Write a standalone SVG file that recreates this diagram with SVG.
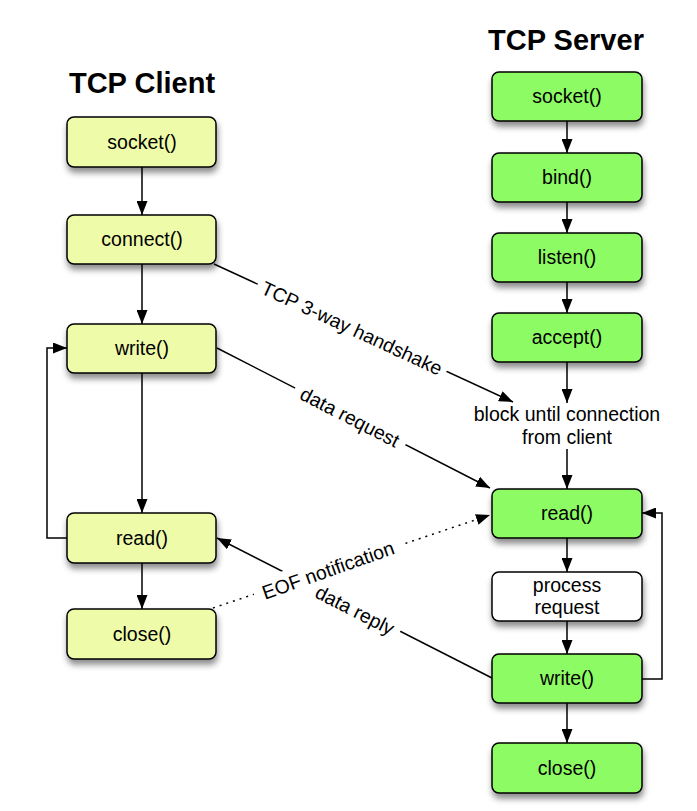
<svg xmlns="http://www.w3.org/2000/svg" width="697" height="811" viewBox="0 0 697 811">
<style>
.t{font-family:"Liberation Sans",Arial,sans-serif;font-size:19.5px;fill:#000;text-anchor:middle}
.h{font-family:"Liberation Sans",Arial,sans-serif;font-size:29px;font-weight:bold;fill:#000;text-anchor:middle}
.c{fill:#eefba9;stroke:#000;stroke-width:1.5}
.s{fill:#8dfb63;stroke:#000;stroke-width:1.5}
.w{fill:#fff;stroke:#000;stroke-width:1.5}
.e{fill:none;stroke:#000;stroke-width:1.5}
.d{fill:none;stroke:#000;stroke-width:1.5;stroke-dasharray:2,5}
</style>
<defs>
<filter id="sh" x="-20%" y="-30%" width="140%" height="180%">
<feDropShadow dx="1" dy="5" stdDeviation="3" flood-color="#000" flood-opacity="0.45"/>
</filter>
<marker id="ar" viewBox="0 0 14 11" refX="14" refY="5.5" markerWidth="14" markerHeight="11" markerUnits="userSpaceOnUse" orient="auto">
<path d="M0,0 L14,5.5 L0,11 Z" fill="#000"/>
</marker>
</defs>
<rect width="697" height="811" fill="#fff"/>
<text class="h" x="142" y="93">TCP Client</text>
<text class="h" x="566" y="50">TCP Server</text>

<g id="connectors">
<line class="e" x1="142" y1="167" x2="142" y2="215" marker-end="url(#ar)"/>
<line class="e" x1="142" y1="264" x2="142" y2="324" marker-end="url(#ar)"/>
<line class="e" x1="142" y1="373" x2="142" y2="513" marker-end="url(#ar)"/>
<line class="e" x1="142" y1="563" x2="142" y2="609" marker-end="url(#ar)"/>
<polyline class="e" points="67,538 47,538 47,348 67,348" marker-end="url(#ar)"/>
<line class="e" x1="567" y1="121" x2="567" y2="153" marker-end="url(#ar)"/>
<line class="e" x1="567" y1="202" x2="567" y2="233" marker-end="url(#ar)"/>
<line class="e" x1="567" y1="282" x2="567" y2="313" marker-end="url(#ar)"/>
<line class="e" x1="567" y1="362" x2="567" y2="403" marker-end="url(#ar)"/>
<line class="e" x1="567" y1="449" x2="567" y2="489" marker-end="url(#ar)"/>
<line class="e" x1="567" y1="538" x2="567" y2="572" marker-end="url(#ar)"/>
<line class="e" x1="567" y1="621" x2="567" y2="654" marker-end="url(#ar)"/>
<line class="e" x1="567" y1="703" x2="567" y2="743" marker-end="url(#ar)"/>
<polyline class="e" points="642,679 662,679 662,513 642,513" marker-end="url(#ar)"/>
<line class="e" x1="214" y1="264" x2="513" y2="402" marker-end="url(#ar)"/>
<line class="e" x1="217" y1="348" x2="490" y2="488" marker-end="url(#ar)"/>
<line class="d" x1="213" y1="608" x2="490" y2="515" marker-end="url(#ar)"/>
<line class="e" x1="492" y1="678" x2="217" y2="538" marker-end="url(#ar)"/>
<g transform="translate(352,328) rotate(24.9)">
<rect x="-104" y="-13" width="208" height="26" fill="#fff"/>
<text class="t" x="0" y="7">TCP 3-way handshake</text>
</g>
<g transform="translate(350,417) rotate(27.1)">
<rect x="-62" y="-13" width="124" height="26" fill="#fff"/>
<text class="t" x="0" y="7">data request</text>
</g>
<g transform="translate(355,610) rotate(27.1)">
<rect x="-50" y="-12" width="100" height="24" fill="#fff"/>
<text class="t" x="0" y="7">data reply</text>
</g>
<g transform="translate(328,570) rotate(-19.5)">
<rect x="-78" y="-14" width="156" height="26" fill="#fff"/>
<text class="t" x="0" y="7">EOF notification</text>
</g>
</g>

<g id="client-socket"><rect class="c" x="67" y="117" width="149" height="50" rx="7" filter="url(#sh)"/><text class="t" x="142" y="149">socket()</text></g>
<g id="client-connect"><rect class="c" x="67" y="215" width="149" height="49" rx="7" filter="url(#sh)"/><text class="t" x="142" y="246">connect()</text></g>
<g id="client-write"><rect class="c" x="67" y="324" width="149" height="49" rx="7" filter="url(#sh)"/><text class="t" x="142" y="355">write()</text></g>
<g id="client-read"><rect class="c" x="67" y="513" width="149" height="50" rx="7" filter="url(#sh)"/><text class="t" x="142" y="545">read()</text></g>
<g id="client-close"><rect class="c" x="67" y="609" width="149" height="50" rx="7" filter="url(#sh)"/><text class="t" x="142" y="641">close()</text></g>

<g id="server-socket"><rect class="s" x="492" y="72" width="150" height="49" rx="7" filter="url(#sh)"/><text class="t" x="567" y="103">socket()</text></g>
<g id="server-bind"><rect class="s" x="492" y="153" width="150" height="49" rx="7" filter="url(#sh)"/><text class="t" x="567" y="184">bind()</text></g>
<g id="server-listen"><rect class="s" x="492" y="233" width="150" height="49" rx="7" filter="url(#sh)"/><text class="t" x="567" y="264">listen()</text></g>
<g id="server-accept"><rect class="s" x="492" y="313" width="150" height="49" rx="7" filter="url(#sh)"/><text class="t" x="567" y="344">accept()</text></g>
<g id="server-block"><text class="t" x="567" y="421">block until connection</text><text class="t" x="567" y="444">from client</text></g>
<g id="server-read"><rect class="s" x="492" y="489" width="150" height="49" rx="7" filter="url(#sh)"/><text class="t" x="567" y="520">read()</text></g>
<g id="server-process"><rect class="w" x="492" y="572" width="150" height="49" rx="7" filter="url(#sh)"/><text class="t" x="567" y="592">process</text><text class="t" x="567" y="614">request</text></g>
<g id="server-write"><rect class="s" x="492" y="654" width="150" height="49" rx="7" filter="url(#sh)"/><text class="t" x="567" y="685">write()</text></g>
<g id="server-close"><rect class="s" x="492" y="743" width="150" height="50" rx="7" filter="url(#sh)"/><text class="t" x="567" y="775">close()</text></g>
</svg>
